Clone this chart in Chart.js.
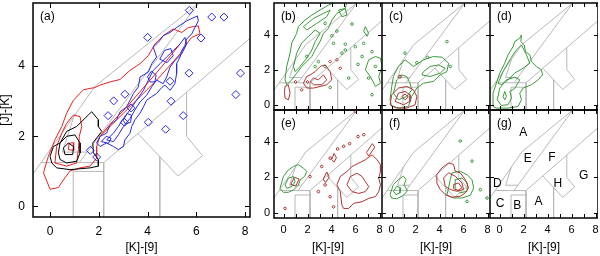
<!DOCTYPE html>
<html>
<head>
<meta charset="utf-8">
<script src="https://cdn.jsdelivr.net/npm/chart.js@4.4.1/dist/chart.umd.min.js"></script>
<style>
  body { margin: 0; background: #fff; }
  #wrap { position: relative; width: 600px; height: 256px; overflow: hidden; }
  canvas { position: absolute; top: 0; }
</style>
</head>
<body>
<div id="wrap">
  <canvas id="pa" width="256" height="256" style="left:0px"></canvas>
  <canvas id="pb" width="122" height="256" style="left:260px"></canvas>
  <canvas id="pc" width="108" height="256" style="left:382px"></canvas>
  <canvas id="pd" width="108" height="256" style="left:490px"></canvas>
  <canvas id="pe" width="122" height="256" style="left:260px"></canvas>
  <canvas id="pf" width="108" height="256" style="left:382px"></canvas>
  <canvas id="pg" width="108" height="256" style="left:490px"></canvas>
</div>
<script>
// axis ticks
const bigXTicks = [0, 2, 4, 6, 8];
const smallXTicks = [0, 1, 2, 3, 4, 5, 6, 7, 8];
const yTicks = [0, 2, 4];

// region boundaries of the colour-colour diagram (same in every panel)
const lineUpper = [[-0.8, 0.83], [1.85, 3.43], [6.1, 5.8]];
const lineMiddle = [[1.2, 1.25], [6.1, 5.8]];
const lineLower = [[2.2, 1.25], [8.3, 4.85]];
const boxTop = [[-0.37, 1.25], [2.2, 1.25], [2.2, -0.5]];
const boxB = [[0.95, -0.5], [0.95, 1.0], [2.2, 1.0]];
const regionH = [[3.6, 2.08], [5.25, 0.87], [6.25, 1.45], [5.6, 2.0], [5.6, 3.26]];
const lineA = [[4.5, 1.42], [4.5, -0.5]];
const regionD = [[1.0, 2.61], [0.5, 1.55], [1.53, 1.55]];

// region names, panel (g)
const gLabels = ['A', 'E', 'F', 'G', 'H', 'D', 'C', 'B', 'A'];
const gLabelX = [1.98, 2.35, 4.36, 7.0, 4.86, -0.19, 0.03, 1.48, 3.24];
const gLabelY = [4.5, 3.03, 3.12, 2.08, 1.66, 1.63, 0.53, 0.38, 0.62];

// panel (a)
const aRedOuter = [[0.00,0.49],[-0.27,0.96],[-0.07,1.43],[0.20,1.90],[0.48,2.28],[0.68,2.66],[0.96,3.03],[1.37,3.33],[1.84,3.39],[2.05,3.46],[2.46,3.55],[2.87,3.62],[3.28,3.88],[3.69,4.07],[4.03,4.30],[4.30,4.63],[4.64,4.87],[5.05,5.06],[5.40,4.96],[5.67,5.10],[6.08,5.15],[6.15,4.92],[5.81,4.82],[5.60,4.63],[5.33,4.35],[4.85,3.97],[4.37,3.60],[3.69,3.13],[3.01,2.66],[2.46,2.28],[2.05,2.00],[1.91,1.71],[1.91,1.38],[1.64,1.15],[1.23,1.10],[0.82,1.01],[0.61,0.82],[0.34,0.54]];
const aRedMid = [[0.20,1.24],[0.27,1.71],[0.48,2.09],[0.68,2.37],[0.96,2.61],[1.23,2.56],[1.30,2.28],[1.20,2.00],[1.16,1.62],[1.09,1.24],[0.68,1.15]];
const aRedInner = [[0.75,1.62],[0.78,1.80],[0.95,1.82],[0.97,1.60]];
const aRedStreak = [[2.10,2.05],[2.60,2.45],[3.10,2.80],[3.60,3.20],[4.10,3.60],[4.60,4.00],[5.00,4.35],[5.30,4.60]];
const aBlackOuter = [[0.00,1.43],[0.14,1.71],[0.41,1.81],[0.68,2.14],[1.09,2.28],[1.57,2.61],[1.71,2.70],[1.98,2.47],[1.98,2.28],[2.12,2.14],[1.91,1.95],[1.75,1.81],[1.78,1.53],[1.98,1.34],[1.98,1.15],[1.64,1.10],[0.82,1.05],[0.27,1.10],[0.07,1.24]];
const aBlackMid = [[0.34,1.53],[0.41,1.81],[0.68,2.00],[1.02,2.04],[1.23,1.81],[1.23,1.53],[1.09,1.29],[0.68,1.24],[0.41,1.34]];
const aBlackInner = [[0.55,1.67],[0.75,1.81],[0.96,1.71],[0.93,1.48],[0.61,1.48]];
const aBlueOuter = [[1.91,1.81],[2.05,2.00],[2.32,2.09],[2.46,2.33],[2.73,2.47],[2.87,2.70],[3.14,2.84],[3.28,3.03],[3.42,3.22],[3.62,3.41],[3.69,3.69],[4.03,3.83],[4.17,4.07],[4.37,4.26],[4.23,4.54],[4.51,4.73],[4.64,4.87],[4.92,4.96],[5.19,5.10],[5.60,5.29],[6.04,5.43],[6.08,5.29],[5.94,5.10],[5.81,4.92],[5.60,4.77],[5.53,4.59],[5.40,4.44],[5.33,4.26],[5.19,4.07],[5.19,3.79],[5.12,3.50],[4.92,3.31],[4.71,3.46],[4.58,3.39],[4.37,3.22],[4.17,3.13],[3.96,3.03],[3.83,2.84],[3.69,2.66],[3.48,2.47],[3.35,2.28],[3.28,2.09],[3.07,1.90],[3.01,1.71],[2.80,1.62],[2.60,1.71],[2.32,1.81],[2.05,1.71]];
const aBlueMid = [[2.32,1.90],[2.60,2.09],[2.80,2.28],[3.01,2.51],[3.28,2.75],[3.55,3.03],[3.83,3.31],[4.03,3.60],[4.23,3.88],[4.51,4.07],[4.78,4.26],[5.05,4.44],[5.33,4.63],[5.53,4.82],[5.60,4.63],[5.40,4.35],[5.12,4.16],[4.92,3.97],[4.78,3.69],[4.64,3.50],[4.37,3.60],[4.17,3.41],[3.96,3.17],[3.69,2.98],[3.48,2.75],[3.28,2.51],[3.01,2.28],[2.80,2.04],[2.60,1.85]];
const aBlueInner1 = [[4.00,3.70],[4.15,3.85],[4.35,3.75],[4.30,3.55],[4.10,3.55]];
const aBlueInner2 = [[3.00,2.45],[3.15,2.65],[3.35,2.60],[3.30,2.40],[3.10,2.35]];
const aBlueInner3 = [[2.10,1.85],[2.30,2.00],[2.50,1.95],[2.40,1.80]];
const aBlueInner4 = [[4.50,4.20],[4.70,4.45],[4.95,4.50],[5.05,4.30],[4.80,4.10]];
const aDiamondX = [5.71, 6.63, 7.13, 4.00, 6.19, 5.70, 7.81, 7.62, 4.92, 2.61, 3.07, 4.96, 2.38, 5.46, 4.03, 3.05, 4.74, 1.65, 1.91, 3.32];
const aDiamondY = [5.59, 5.40, 5.40, 4.82, 4.80, 3.80, 3.80, 3.19, 3.57, 3.01, 3.20, 3.00, 2.59, 2.59, 2.40, 2.40, 2.20, 1.60, 1.41, 2.81];

// panel (b)
const bGreen1 = [[0.12,1.42],[0.26,2.18],[0.54,2.94],[0.68,3.52],[1.09,4.07],[1.23,4.45],[1.79,4.83],[2.35,5.11],[3.04,5.40],[3.74,5.68],[4.44,5.87],[5.28,5.87],[5.14,5.49],[4.44,5.21],[4.02,4.83],[3.74,4.36],[3.32,4.07],[3.04,3.60],[2.63,3.12],[2.35,2.75],[1.93,2.46],[1.51,2.18],[1.09,1.80],[0.68,1.42],[0.26,1.14]];
const bGreen2 = [[0.82,2.18],[1.09,2.94],[1.51,3.52],[2.07,3.90],[2.63,4.26],[3.04,4.07],[2.63,3.60],[2.35,3.12],[1.93,2.65],[1.37,2.18],[0.96,1.89]];
const bGreen3 = [[1.65,4.45],[2.49,4.92],[3.32,5.21],[3.88,5.40],[3.60,5.02],[2.77,4.64],[1.93,4.26]];
const bGreen4 = [[7.09,2.56],[7.65,2.75],[8.07,2.65],[8.20,2.18],[7.93,1.61],[8.07,1.23],[7.65,1.04],[7.23,1.61],[6.81,1.99]];
const bGreen5 = [[4.58,5.40],[5.14,5.49],[5.28,5.11],[4.86,5.02]];
const bGreen6 = [[6.81,4.45],[7.09,4.07],[6.95,3.90],[6.67,4.20]];
const bGreenDotX = [3.46, 4.02, 5.14, 4.16, 4.86, 5.98, 6.54, 7.37, 7.65, 6.67, 3.46, 2.90, 2.63, 1.93, 3.88, 5.42, 7.09, 7.37, 5.14, 4.44, 6.20, 5.70];
const bGreenDotY = [4.64, 3.93, 3.45, 3.50, 2.94, 3.31, 2.75, 3.03, 2.18, 3.50, 2.18, 2.46, 2.18, 2.75, 0.99, 1.52, 1.52, 0.57, 3.12, 4.20, 2.30, 4.60];
const bRed1 = [[1.65,1.23],[1.93,1.61],[2.21,1.70],[2.63,1.89],[3.04,2.18],[3.46,2.27],[3.88,1.89],[4.02,1.42],[3.60,1.14],[3.04,1.04],[2.49,0.95],[1.93,0.95]];
const bRed2 = [[2.21,1.33],[2.49,1.52],[2.90,1.42],[3.32,1.70],[3.60,1.42],[3.18,1.14],[2.49,1.14]];
const bRed3 = [[0.12,1.04],[0.40,1.14],[0.54,0.66],[0.40,0.28],[0.12,0.38],[0.07,0.76]];
const bRedDotX = [3.88, 4.44, 4.72, 1.51, 1.00, 2.00];
const bRedDotY = [2.46, 2.56, 2.08, 0.85, 1.30, 1.30];

// panel (c)
const cGreen1 = [[-0.13,0.28],[0.01,1.04],[0.15,1.61],[0.57,2.18],[1.12,2.56],[1.82,2.18],[2.66,2.56],[3.49,2.75],[4.20,2.71],[4.75,2.37],[4.61,1.89],[4.05,1.70],[3.49,1.33],[2.66,1.23],[2.10,0.95],[1.68,0.47],[1.40,-0.10],[0.70,-0.19],[0.01,-0.10]];
const cGreen2 = [[0.15,0.66],[0.43,1.42],[0.85,1.70],[1.26,1.61],[1.54,1.23],[1.68,0.85],[1.26,0.47],[0.57,0.28]];
const cGreen3 = [[2.66,1.89],[3.21,2.18],[3.91,2.27],[4.47,2.08],[4.05,1.80],[3.21,1.61],[2.52,1.70]];
const cGreenDotX = [4.61, 1.12, 4.89, 2.10, 3.00];
const cGreenDotY = [3.60, 2.94, 2.18, 2.40, 2.70];
const cRed1 = [[-0.13,0.00],[0.01,0.57],[0.57,0.95],[1.26,1.04],[1.82,0.85],[2.10,0.47],[1.96,0.00],[1.26,-0.19],[0.43,-0.19]];
const cRed2 = [[0.29,0.19],[0.57,0.66],[1.12,0.76],[1.54,0.57],[1.54,0.19],[0.99,0.00]];
const cRed3 = [[0.85,0.47],[1.12,0.61],[1.40,0.44],[1.12,0.28]];
const cRedDotX = [0.70];
const cRedDotY = [1.60];

// panel (d)
const dGreen1 = [[-0.55,-0.10],[-0.55,0.66],[-0.27,1.23],[0.01,1.80],[0.43,2.37],[0.70,2.84],[1.12,3.31],[1.26,3.60],[1.68,3.79],[1.82,3.98],[1.77,3.60],[2.05,3.41],[2.16,3.03],[2.52,2.84],[2.66,2.46],[3.07,2.18],[3.49,1.99],[3.58,1.70],[3.21,1.42],[2.66,1.14],[1.96,0.95],[1.68,0.66],[1.82,0.28],[1.54,-0.10],[0.70,-0.19],[-0.27,-0.19]];
const dGreen2 = [[-0.19,0.28],[0.01,0.95],[0.57,1.42],[1.26,1.57],[1.68,1.42],[1.26,0.93],[0.85,0.76],[0.99,0.38],[0.70,0.00],[0.15,-0.04]];
const dGreen3 = [[-0.13,1.23],[0.29,1.89],[0.85,2.56],[1.40,3.12],[1.82,3.41],[2.24,2.84],[2.52,2.37],[1.96,2.08],[1.26,1.80],[0.70,1.42],[0.15,1.14]];
const dGreen4 = [[0.29,0.47],[0.43,0.76],[0.57,0.47],[0.43,0.28]];

// panel (e)
const eGreen1 = [[-0.30,1.38],[-0.02,2.04],[0.40,2.42],[0.82,2.61],[1.24,2.71],[1.65,2.52],[1.93,2.33],[1.74,2.04],[1.37,1.85],[1.24,1.57],[0.82,1.28],[0.40,1.15],[-0.02,1.15]];
const eGreen2 = [[0.12,1.57],[0.40,1.95],[0.82,2.04],[0.96,1.76],[0.68,1.47],[0.26,1.38]];
const eRed1 = [[4.86,0.43],[4.72,1.19],[4.44,1.57],[4.72,2.04],[5.28,2.33],[5.70,2.61],[6.26,2.80],[6.81,2.99],[7.37,3.27],[7.79,2.99],[8.07,2.71],[8.07,2.33],[7.93,1.95],[8.07,1.57],[7.93,1.19],[7.65,0.91],[7.10,0.81],[6.54,0.62],[5.84,0.53],[5.42,0.24],[5.00,0.24]];
const eRed2 = [[5.28,1.57],[5.56,2.04],[6.12,2.23],[6.54,2.04],[6.81,1.76],[7.10,1.47],[6.81,1.19],[6.26,1.09],[5.70,1.19]];
const eRed3 = [[0.60,1.60],[0.90,2.00],[1.30,1.90],[1.00,1.50]];
const eRed4 = [[3.30,1.90],[3.60,2.30],[3.80,2.00],[3.50,1.70]];
const eRed5 = [[6.90,3.40],[7.40,3.90],[7.60,3.70],[7.10,3.20]];
const eRed6 = [[4.00,3.00],[4.20,3.35],[4.40,3.10],[4.20,2.85]];
const eRedDotX = [5.98, 6.68, 5.00, 3.88, 3.18, 3.46, 2.90, 3.88, 4.16, 2.20, 0.12, 4.50, 5.50, 6.20];
const eRedDotY = [5.73, 4.41, 3.75, 3.08, 2.61, 1.57, 1.19, 0.90, 0.33, 2.04, 0.24, 3.60, 3.90, 4.30];

// panel (f)
const fGreen1 = [[-0.13,1.02],[0.15,1.59],[0.57,1.87],[0.99,2.06],[1.21,1.87],[1.04,1.55],[1.32,1.24],[0.99,0.98],[0.43,0.79],[0.01,0.83]];
const fGreen2 = [[0.15,1.21],[0.43,1.49],[0.76,1.40],[0.70,1.12],[0.38,1.02]];
const fGreen3 = [[5.03,2.25],[5.72,2.34],[6.28,2.15],[6.70,1.87],[6.84,1.40],[6.56,0.98],[5.86,0.83],[5.17,0.83],[4.61,0.98],[4.75,1.40],[4.89,1.87]];
const fGreen4 = [[5.30,1.87],[5.86,1.96],[6.33,1.68],[6.28,1.21],[5.72,1.12],[5.30,1.40]];
const fGreenDotX = [5.72, 6.70, 7.39, 6.28, 7.95];
const fGreenDotY = [4.05, 2.91, 1.30, 0.64, 0.83];
const fRed1 = [[3.77,2.15],[4.19,2.53],[4.75,2.81],[5.17,2.72],[5.30,2.34],[5.72,2.25],[6.14,1.87],[6.42,1.40],[6.14,1.12],[5.72,0.93],[5.03,0.87],[4.47,1.02],[4.05,1.31],[3.77,1.68]];
const fRed2 = [[4.33,1.96],[4.75,2.25],[5.30,2.06],[5.86,1.68],[6.00,1.31],[5.44,1.21],[4.89,1.31],[4.47,1.49]];
const fRed3 = [[5.17,1.59],[5.58,1.68],[5.86,1.40],[5.50,1.25],[5.17,1.36]];

const RED = '#e82020';
const BLUE = '#2828e6';
const GREEN = '#3a9a3a';
const DARKRED = '#b03434';
const GREY = '#b8b8b8';

function closed(pts, color) {
  const data = pts.concat([pts[0]]).map(p => ({ x: p[0], y: p[1] }));
  return { data, showLine: true, borderColor: color, borderWidth: 1, pointRadius: 0, pointHoverRadius: 0, tension: 0, fill: false };
}

function open(pts, color) {
  return { data: pts.map(p => ({ x: p[0], y: p[1] })), showLine: true, borderColor: color, borderWidth: 1, pointRadius: 0, pointHoverRadius: 0, tension: 0, fill: false };
}

function dots(xs, ys, color, style, r) {
  return {
    data: xs.map((x, i) => ({ x, y: ys[i] })),
    showLine: false, pointStyle: style, pointRadius: r, pointHoverRadius: r,
    borderColor: color, backgroundColor: 'rgba(0,0,0,0)', borderWidth: 1
  };
}

function regionLines() {
  return [lineUpper, lineMiddle, lineLower, boxTop, boxB, regionH, lineA, regionD].map(l => open(l, GREY));
}

// frame, inward ticks on all sides, panel label, region names
const framePlugin = {
  id: 'frame',
  afterDatasetsDraw(chart, args, opts) {
    const { ctx, chartArea: a, scales: { x, y } } = chart;
    ctx.save();
    ctx.strokeStyle = '#000';
    ctx.lineWidth = 1;
    ctx.beginPath();
    x.ticks.forEach(t => {
      const px = Math.round(x.getPixelForValue(t.value)) + 0.5;
      ctx.moveTo(px, a.bottom); ctx.lineTo(px, a.bottom - opts.len);
      ctx.moveTo(px, a.top); ctx.lineTo(px, a.top + opts.len);
    });
    y.ticks.forEach(t => {
      const py = Math.round(y.getPixelForValue(t.value)) + 0.5;
      ctx.moveTo(a.left, py); ctx.lineTo(a.left + opts.len, py);
      ctx.moveTo(a.right, py); ctx.lineTo(a.right - opts.len, py);
    });
    ctx.stroke();
    ctx.lineWidth = 1.5;
    ctx.strokeRect(a.left, a.top, a.right - a.left, a.bottom - a.top);
    ctx.fillStyle = '#000';
    ctx.font = '12px "Liberation Sans", Arial, sans-serif';
    ctx.textBaseline = 'top';
    ctx.textAlign = 'left';
    ctx.fillText(opts.label, a.left + 7, a.top + 8);
    if (opts.regions) {
      ctx.textAlign = 'center';
      ctx.textBaseline = 'middle';
      gLabels.forEach((s, i) => {
        ctx.fillText(s, x.getPixelForValue(gLabelX[i]), y.getPixelForValue(gLabelY[i]));
      });
    }
    ctx.restore();
  }
};

function panel(id, o) {
  const font = { family: '"Liberation Sans", Arial, sans-serif', size: o.big ? 12 : 11 };
  return new Chart(document.getElementById(id), {
    type: 'scatter',
    data: { datasets: o.datasets.concat(regionLines()) },
    options: {
      responsive: false,
      animation: false,
      events: [],
      layout: { autoPadding: false, padding: { top: o.top, right: o.right || 0, left: 0, bottom: 0 } },
      plugins: {
        legend: { display: false },
        tooltip: { enabled: false },
        frame: { label: o.label, len: o.big ? 5 : 4, regions: o.regions }
      },
      scales: {
        x: {
          type: 'linear', min: o.big ? -0.7 : -0.8, max: 8.2,
          grid: { display: false, drawTicks: false }, border: { display: false },
          afterBuildTicks: s => { s.ticks = (o.big ? bigXTicks : smallXTicks).map(v => ({ value: v })); },
          ticks: { display: o.xLabels, color: '#000', font, padding: o.big ? 7 : 5, maxRotation: 0, autoSkip: false,
                   callback: v => (v % 2 === 0 ? String(v) : '') },
          title: { display: o.xLabels, text: '[K]-[9]', color: '#000',
                   font: { family: font.family, size: 12 }, padding: { top: 0, bottom: 1 } },
          afterFit: s => { s.height = o.xh; s.paddingLeft = 0; s.paddingRight = 0; }
        },
        y: {
          type: 'linear', min: -0.3, max: 5.8,
          grid: { display: false, drawTicks: false }, border: { display: false },
          afterBuildTicks: s => { s.ticks = yTicks.map(v => ({ value: v })); },
          ticks: { display: o.yw > 0, color: '#000', font, padding: o.big ? 8 : 4, autoSkip: false },
          title: { display: !!o.big, text: '[J]-[K]', color: '#000',
                   font: { family: font.family, size: 12, lineHeight: 1 }, padding: { top: 0, bottom: 0 } },
          afterFit: s => { s.width = o.yw; s.paddingTop = 0; s.paddingBottom = 0; }
        }
      }
    },
    plugins: [framePlugin]
  });
}

panel('pa', {
  big: true, label: '(a)', top: 3, right: 6, xh: 39, yw: 33, xLabels: true,
  datasets: [
    dots(aDiamondX, aDiamondY, BLUE, 'rectRot', 4),
    closed(aBlackInner, '#000'), closed(aBlackMid, '#000'), closed(aBlackOuter, '#000'),
    open(aRedStreak, RED),
    closed(aBlueInner1, BLUE), closed(aBlueInner2, BLUE), closed(aBlueInner3, BLUE), closed(aBlueInner4, BLUE),
    closed(aBlueMid, BLUE), closed(aBlueOuter, BLUE),
    closed(aRedInner, RED), closed(aRedMid, RED), closed(aRedOuter, RED)
  ]
});

panel('pb', {
  label: '(b)', top: 3, xh: 146, yw: 14, xLabels: false,
  datasets: [
    closed(bRed1, DARKRED), closed(bRed2, DARKRED), closed(bRed3, DARKRED),
    dots(bRedDotX, bRedDotY, DARKRED, 'rectRot', 1.5),
    closed(bGreen1, GREEN), closed(bGreen2, GREEN), closed(bGreen3, GREEN),
    closed(bGreen4, GREEN), closed(bGreen5, GREEN), closed(bGreen6, GREEN),
    dots(bGreenDotX, bGreenDotY, GREEN, 'circle', 1.3)
  ]
});

panel('pc', {
  label: '(c)', top: 3, xh: 146, yw: 0, xLabels: false,
  datasets: [
    closed(cRed3, DARKRED), closed(cRed2, DARKRED), closed(cRed1, DARKRED),
    dots(cRedDotX, cRedDotY, DARKRED, 'circle', 1.5),
    closed(cGreen1, GREEN), closed(cGreen2, GREEN), closed(cGreen3, GREEN),
    dots(cGreenDotX, cGreenDotY, GREEN, 'circle', 1.3)
  ]
});

panel('pd', {
  label: '(d)', top: 3, xh: 146, yw: 0, xLabels: false,
  datasets: [
    closed(dGreen1, GREEN), closed(dGreen2, GREEN), closed(dGreen3, GREEN), closed(dGreen4, GREEN)
  ]
});

panel('pe', {
  label: '(e)', top: 110, xh: 38, yw: 14, xLabels: true,
  datasets: [
    closed(eGreen1, GREEN), closed(eGreen2, GREEN),
    closed(eRed1, DARKRED), closed(eRed2, DARKRED), closed(eRed3, DARKRED),
    closed(eRed4, DARKRED), closed(eRed5, DARKRED), closed(eRed6, DARKRED),
    dots(eRedDotX, eRedDotY, DARKRED, 'circle', 1.3)
  ]
});

panel('pf', {
  label: '(f)', top: 110, xh: 38, yw: 0, xLabels: true,
  datasets: [
    closed(fRed3, DARKRED), closed(fRed2, DARKRED), closed(fRed1, DARKRED),
    closed(fGreen1, GREEN), closed(fGreen2, GREEN), closed(fGreen3, GREEN), closed(fGreen4, GREEN),
    dots(fGreenDotX, fGreenDotY, GREEN, 'circle', 1.3)
  ]
});

panel('pg', {
  label: '(g)', top: 110, xh: 38, yw: 0, xLabels: true, regions: true,
  datasets: []
});
</script>
</body>
</html>
